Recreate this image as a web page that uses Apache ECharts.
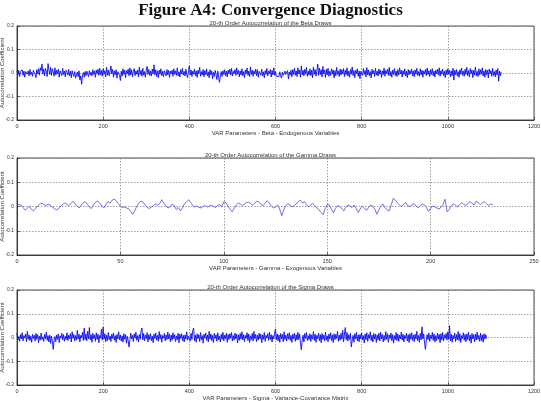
<!DOCTYPE html>
<html><head><meta charset="utf-8">
<script src="https://cdn.jsdelivr.net/npm/echarts@6/dist/echarts.min.js"></script>
<style>html,body{margin:0;padding:0;background:#fff}#c{width:541px;height:401px}</style>
</head><body><div id="c"></div>
<script>
// values are read in thousandths of the autocorrelation coefficient
const SCALE = 0.001;
// beta draws: one reading for every second parameter (index step 2)
const betaStep = 2;
const betaVals = [
10,-8,12,-15,5,-3,14,-10,8,-18,6,12,-5,9,-12,15,-7,3,-14,11,
8,-6,-20,14,-4,18,-9,22,10,38,-5,16,-12,20,8,-15,40,12,-6,25,
-10,18,5,-14,22,-8,12,-3,16,-18,9,14,-11,20,-6,8,-16,12,3,-9,
15,-12,7,-20,10,-5,-14,6,-22,-8,4,-16,9,-30,-12,-48,-10,2,-18,6,
-12,8,-4,-15,10,-8,3,-12,14,-6,9,-18,12,-3,16,-10,20,-8,11,-14,
18,-5,10,-16,24,-9,13,-12,6,30,-4,15,-18,9,-7,14,-22,5,12,-10,
-32,8,-14,18,-6,12,-20,10,-3,16,-12,22,-8,14,-16,6,19,-11,9,-5,
13,-17,25,-7,11,-14,20,-9,6,-18,12,28,-6,15,-10,8,-13,17,-4,35,
-8,14,-15,9,-20,12,-5,18,-11,7,-16,10,4,-12,15,-8,11,-19,8,-3,
12,-14,18,-6,9,-10,22,-12,5,-17,14,-4,20,-9,7,-13,16,-6,-20,10,
30,-8,13,-15,8,-5,17,-11,9,-19,12,-3,24,-14,6,-9,15,-16,10,-7,
18,-12,5,-20,14,-8,9,-24,3,-15,11,-6,-28,8,-18,-40,-12,6,-15,10,
-6,14,-11,8,-17,12,-4,16,-9,20,-13,7,-2,15,-10,22,-5,11,-16,9,
-8,18,-12,6,-19,13,-3,21,-10,8,-15,26,-6,12,-14,9,-4,17,-11,14,
-18,7,12,-9,16,-13,5,-20,10,-6,19,-12,8,-3,15,-17,11,-8,22,-10,
6,-14,-20,-8,-15,5,-12,-22,3,-10,-18,8,-6,-14,10,-25,4,-9,12,-16,
14,-6,20,-10,9,-15,22,-4,13,-18,30,-8,11,-12,16,-5,24,-14,8,-9,
18,-11,12,-20,26,-6,15,-13,9,38,-10,21,-7,14,-17,28,-3,12,-19,16,
-8,20,-14,7,-10,18,-5,13,-21,10,-12,24,-6,9,-15,17,-9,14,-4,19,
-16,11,-7,22,-13,8,-18,15,-5,26,-11,10,-20,12,-3,18,-14,9,-24,7,
14,-10,19,-6,11,-17,23,-8,13,-12,6,-21,16,-4,10,-15,20,-9,8,-13,
17,-5,12,-19,9,-7,21,-14,11,-3,16,-10,24,-12,7,-18,13,-6,19,-11,
8,-15,14,-9,22,-4,12,-17,10,-6,18,-13,7,-20,15,-8,11,-3,17,-12,
9,-16,13,-5,20,-10,6,-14,18,-8,12,-18,9,-4,15,-11,21,-7,10,-15,
14,-6,19,-12,8,-17,12,-3,16,-9,22,-14,10,-5,17,-11,7,-19,13,-8,
18,-4,11,-16,9,-12,20,-30,12,-7,15,-13,6,-18,14,-5,21,-10,8,-14,
16,-6,24,-11,10,-17,19,-3,13,-20,11,-8,26,-12,7,-15,18,-9,14,-5,
22,-13,9,-18,15,-7,12,-21,17,-4,10,-14,20,-10,6,-16,13,-8,19,-35,
8,-12,5
];
// gamma draws: one reading per parameter
const gammaStep = 1;
const gammaVals = [
2,8,6,-5,-15,-8,2,-12,-18,-8,
2,10,14,8,4,10,6,-2,-8,-14,
-10,0,8,14,10,4,12,20,14,2,
-6,4,16,20,10,-2,-8,6,18,22,
14,2,-6,8,20,14,26,30,24,12,
2,-4,-2,-6,-10,-20,-32,-16,2,16,
22,18,6,-4,-8,-2,4,10,6,12,
28,14,2,-6,-2,10,4,-12,-4,-18,
-6,12,20,28,16,4,-2,2,-4,-6,
0,4,-2,2,6,0,-4,4,8,-2,
20,16,2,-10,-22,-8,6,14,10,4,
10,16,18,12,6,14,22,18,8,4,
14,24,14,2,-6,-2,6,-10,-38,-14,
4,12,6,-2,4,10,20,26,14,20,
8,-2,6,12,4,-6,-14,-24,-34,-10,
8,6,-10,-26,-8,4,0,-8,-18,-4,
6,2,-4,6,-8,-24,-10,2,-6,-16,
-4,6,2,-10,-32,-14,4,10,-6,-14,
-18,8,34,26,14,6,0,10,16,4,
-2,8,12,2,-6,4,10,6,-4,-20,
-8,2,-2,-6,-10,-4,8,30,-22,-12,
4,10,6,-2,8,16,10,4,12,20,
14,6,22,16,8,14,20,12,4,10,
8
];
// sigma draws: one reading for every second parameter (index step 2)
const sigmaStep = 2;
const sigmaVals = [
18,-10,4,-16,12,-6,20,-14,8,-2,15,-18,26,-8,11,-13,5,-20,14,-4,
9,-15,17,-7,12,-22,6,-11,19,-9,3,-17,13,-5,22,-12,8,-19,10,-25,
6,-14,-50,-12,4,-18,11,-8,15,-21,7,-3,18,-10,12,-16,5,-9,20,-13,
10,-6,16,-19,24,-4,13,-15,8,-11,30,-7,14,-18,9,-2,22,-12,40,-9,
15,-14,26,-6,42,-10,12,-20,18,-5,11,-16,20,-8,14,-22,9,-3,35,-11,
44,-7,16,-18,10,-13,21,-9,6,-17,14,-4,19,-12,8,-21,13,-6,24,-10,
11,-15,7,-20,16,-8,12,-24,5,-14,-40,-10,18,-6,9,-17,15,-3,22,-12,
8,-19,13,-7,28,40,-10,17,-14,10,-5,21,-18,12,-9,16,-13,6,-22,14,
-4,19,-11,9,-16,25,-7,13,-20,8,-3,17,-14,11,-9,23,-6,15,-18,10,
-12,20,-5,12,-17,7,-10,18,-22,14,-4,16,-13,9,-19,11,-7,24,-11,6,
13,-15,18,-8,30,40,-14,10,-20,16,-5,12,-17,21,-9,8,-24,14,-3,19,
-12,11,-18,26,-7,15,-13,9,-21,17,-4,12,-16,20,-10,6,-19,14,-8,22,
-14,10,-5,18,-20,13,-9,16,-3,21,-15,8,-11,19,-6,14,-23,11,-12,17,
-7,24,-10,12,-18,9,-4,20,-13,15,-21,7,-9,17,-15,26,-5,13,-17,10,
-11,18,-6,14,-22,11,-8,21,-16,9,-3,16,-12,22,-9,12,-19,8,-6,19,
36,-10,15,-14,11,-20,17,-5,13,-18,24,-9,10,-15,16,-7,20,-12,9,-21,
14,-6,18,-16,12,-11,22,-8,15,-24,-52,-12,10,-19,17,-4,21,-13,8,-9,
16,-17,11,-7,25,-12,14,-20,9,-5,19,-14,12,-22,17,-8,10,-15,23,-11,
7,-18,15,-6,20,-13,11,-21,16,-9,13,-4,26,-16,10,-12,18,-7,30,-19,
14,42,-10,21,-15,12,-8,17,-40,-12,9,-20,16,-6,22,-14,11,-18,13,-5,
19,-11,8,-23,15,-9,20,-16,12,-4,24,-13,10,-19,17,-7,14,-21,11,-10,
18,-15,22,-6,13,-18,9,-12,25,-8,16,-20,11,-5,19,-14,12,-24,8,-9,
21,-13,15,-17,10,-6,23,-11,14,-19,9,-4,18,-15,12,-21,16,-8,20,-12,
11,-18,14,-7,26,-13,9,-20,17,-10,45,-6,15,-24,-50,-14,12,-9,19,-16,
10,-5,22,-12,15,-19,8,-13,18,-7,13,-22,16,-10,21,-15,11,-4,17,-11,
24,-8,50,-14,14,-20,9,-6,19,-17,12,-10,25,-13,16,-21,8,-5,20,-12,
13,-18,15,-9,22,-14,10,-24,17,-6,12,-19,14,-11,23,-8,9,-16,18,-13,
11,-20,16,-7,12,-4
];

const figureTitle = 'Figure A4: Convergence Diagnostics';
const panelTitles = [
  '20-th Order Autocorrelation of the Beta Draws',
  '20-th Order Autocorrelation of the Gamma Draws',
  '20-th Order Autocorrelation of the Sigma Draws'
];
const xNames = [
  'VAR Parameters - Beta - Endogenous Variables',
  'VAR Parameters - Gamma - Exogenous Variables',
  'VAR Parameters - Sigma - Variance-Covariance Matrix'
];
const yName = 'Autocorrelation Coefficient';
const xMax = [1200, 250, 1200];
const xInterval = [200, 50, 200];
const yMin = -0.2, yMax = 0.2, yInterval = 0.1;

const panels = [[betaVals, betaStep], [gammaVals, gammaStep], [sigmaVals, sigmaStep]];
const gridTops = [26, 158, 290];
const gridHeights = [94, 97, 95];
const lineColors = ['#0a0af0', '#4a4aee', '#0a0af0'];
const lineWidths = [0.9, 0.8, 0.9];

const chart = echarts.init(document.getElementById('c'), null, {renderer: 'canvas'});
const font = 'Liberation Sans, Arial, sans-serif';
const fmtY = v => { const r = Math.round(v * 10) / 10; return r === 0 ? '0' : String(r); };
const fmtX = v => String(Math.round(v));

const option = {
  animation: false,
  backgroundColor: '#fff',
  title: [
    {text: figureTitle, left: 'center', top: -3,
     textStyle: {fontFamily: 'Liberation Serif', fontWeight: 'bold', fontSize: 17, color: '#111'}},
  ].concat(panelTitles.map((t, i) => ({
    text: t, left: 'center', top: gridTops[i] - 11,
    textStyle: {fontFamily: font, fontWeight: 'normal', fontSize: 6, color: '#333'}
  }))),
  grid: gridTops.map((t, i) => ({
    left: 17, right: 7, top: t, height: gridHeights[i], show: true,
    containLabel: false, outerBoundsMode: 'none',
    borderColor: '#222', borderWidth: 0.8, backgroundColor: 'transparent'
  })),
  xAxis: [0, 1, 2].map(i => ({
    type: 'value', gridIndex: i, min: 0, max: xMax[i], interval: xInterval[i],
    name: xNames[i], nameLocation: 'middle', nameGap: 10, nameMoveOverlap: false,
    nameTextStyle: {fontFamily: font, fontSize: 6, color: '#333'},
    axisLine: {show: true, onZero: false, lineStyle: {color: '#222', width: 0.8}},
    axisTick: {show: true, inside: true, length: 3, lineStyle: {color: '#222', width: 0.6}},
    axisLabel: {fontFamily: font, fontSize: 5.5, color: '#333', margin: 3, formatter: fmtX},
    splitLine: {show: true, lineStyle: {color: '#777', type: [1.5, 1.5], width: 0.7}}
  })),
  yAxis: [0, 1, 2].map(i => ({
    type: 'value', gridIndex: i, min: yMin, max: yMax, interval: yInterval,
    name: yName, nameLocation: 'middle', nameGap: 12, nameRotate: 90, nameMoveOverlap: false,
    nameTextStyle: {fontFamily: font, fontSize: 6, color: '#333'},
    axisLine: {show: true, onZero: false, lineStyle: {color: '#222', width: 0.8}},
    axisTick: {show: true, inside: true, length: 3, lineStyle: {color: '#222', width: 0.6}},
    axisLabel: {fontFamily: font, fontSize: 5, color: '#333', margin: 3, formatter: fmtY},
    splitLine: {show: true, lineStyle: {color: '#777', type: [1.5, 1.5], width: 0.7}}
  })),
  series: panels.map(([vals, step], i) => ({
    type: 'line', xAxisIndex: i, yAxisIndex: i, showSymbol: false, symbol: 'none',
    data: vals.map((v, k) => [k * step, v * SCALE]),
    lineStyle: {color: lineColors[i], width: lineWidths[i]},
    emphasis: {disabled: true}
  }))
};
chart.setOption(option);
</script>
</body></html>
